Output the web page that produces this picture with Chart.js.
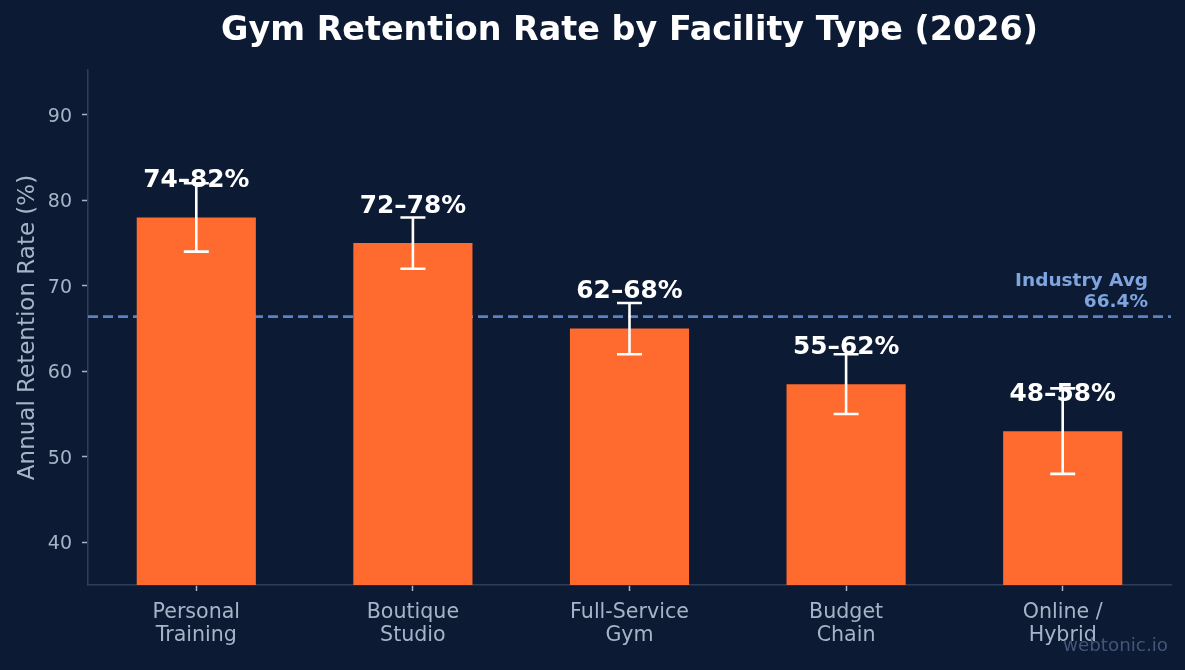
<!DOCTYPE html>
<html>
<head>
<meta charset="utf-8">
<script src="https://cdn.jsdelivr.net/npm/chart.js@4.4.1/dist/chart.umd.min.js"></script>
<style>
  html, body { margin: 0; padding: 0; background: #0c1b33; }
  #wrap { width: 1185px; height: 670px; position: relative; }
</style>
</head>
<body>
<div id="wrap"><canvas id="c" width="1185" height="670"></canvas></div>
<script>
const categories = [['Personal', 'Training'], ['Boutique', 'Studio'], ['Full-Service', 'Gym'], ['Budget', 'Chain'], ['Online /', 'Hybrid']];
const retention = [78, 75, 65, 58.5, 53];
const rangeLow = [74, 72, 62, 55, 48];
const rangeHigh = [82, 78, 68, 62, 58];
const rangeLabels = ['74–82%', '72–78%', '62–68%', '55–62%', '48–58%'];
const industryAvg = 66.4;
const yTicks = [40, 50, 60, 70, 80, 90];
const titleText = 'Gym Retention Rate by Facility Type (2026)';
const yAxisTitle = 'Annual Retention Rate (%)';

const BG = '#0c1b33';
const FONT = '"DejaVu Sans", sans-serif';

const decor = {
  id: 'decor',
  beforeDraw(chart) {
    const ctx = chart.ctx;
    ctx.save();
    ctx.fillStyle = BG;
    ctx.fillRect(0, 0, chart.width, chart.height);
    ctx.restore();
  },
  beforeDatasetsDraw(chart) {
    const ctx = chart.ctx, ca = chart.chartArea, y = chart.scales.y;
    const py = y.getPixelForValue(industryAvg);
    ctx.save();
    ctx.strokeStyle = '#5b82c2';
    ctx.lineWidth = 2.6;
    ctx.setLineDash([10, 5]);
    ctx.beginPath();
    ctx.moveTo(ca.left, py);
    ctx.lineTo(ca.right, py);
    ctx.stroke();
    ctx.restore();
  },
  afterDatasetsDraw(chart) {
    const ctx = chart.ctx, x = chart.scales.x, y = chart.scales.y, ca = chart.chartArea;
    ctx.save();
    // error bars
    ctx.strokeStyle = '#ffffff';
    ctx.lineWidth = 2.6;
    categories.forEach((c, i) => {
      const px = x.getPixelForValue(i);
      const lo = y.getPixelForValue(rangeLow[i]);
      const hi = y.getPixelForValue(rangeHigh[i]);
      ctx.beginPath();
      ctx.moveTo(px, lo); ctx.lineTo(px, hi);
      ctx.moveTo(px - 12.5, lo); ctx.lineTo(px + 12.5, lo);
      ctx.moveTo(px - 12.5, hi); ctx.lineTo(px + 12.5, hi);
      ctx.stroke();
    });
    // value labels
    ctx.fillStyle = '#ffffff';
    ctx.font = 'bold 24.8px ' + FONT;
    ctx.textAlign = 'center';
    ctx.textBaseline = 'middle';
    categories.forEach((c, i) => {
      const px = x.getPixelForValue(i);
      const py = y.getPixelForValue(retention[i]) - 37;
      ctx.fillText(rangeLabels[i], px, py);
    });
    // industry avg label
    ctx.fillStyle = '#7ea5df';
    ctx.font = 'bold 18.5px ' + FONT;
    ctx.textAlign = 'right';
    ctx.fillText('Industry Avg', 1148, 281);
    ctx.fillText(industryAvg.toFixed(1) + '%', 1148, 302);
    // title
    ctx.fillStyle = '#ffffff';
    ctx.font = 'bold 33.4px ' + FONT;
    ctx.textAlign = 'center';
    ctx.fillText(titleText, (ca.left + ca.right) / 2, 31);
    // watermark
    ctx.fillStyle = '#44557a';
    ctx.font = '18.3px ' + FONT;
    ctx.textAlign = 'right';
    ctx.fillText('webtonic.io', 1168, 646);
    ctx.restore();
  }
};

new Chart(document.getElementById('c'), {
  type: 'bar',
  data: {
    labels: categories,
    datasets: [{
      data: retention,
      backgroundColor: '#ff6b2e',
      borderWidth: 0,
      barPercentage: 0.55,
      categoryPercentage: 1.0
    }]
  },
  options: {
    responsive: false,
    animation: false,
    devicePixelRatio: 1,
    layout: { padding: { top: 70, left: 0, right: 14, bottom: 0 } },
    plugins: { legend: { display: false }, tooltip: { enabled: false }, title: { display: false } },
    scales: {
      x: {
        offset: true,
        grid: { offset: false, drawOnChartArea: false, drawTicks: true, tickLength: 6, tickWidth: 1.5, tickColor: '#a8b3c7' },
        border: { color: '#2e3d58', width: 1.5 },
        ticks: { color: '#a8b3c7', font: { family: FONT, size: 20.6, lineHeight: 1.12 }, padding: 10, maxRotation: 0, autoSkip: false },
        afterFit(s) { s.height = 85; }
      },
      y: {
        min: 35,
        max: 95.25,
        grid: { drawOnChartArea: false, drawTicks: true, tickLength: 6, tickWidth: 1.5, tickColor: '#a8b3c7' },
        border: { color: '#2e3d58', width: 1.5 },
        ticks: { color: '#a8b3c7', font: { family: FONT, size: 19 }, padding: 10, labelOffset: 2 },
        afterBuildTicks(s) { s.ticks = yTicks.map(v => ({ value: v })); },
        title: { display: true, text: yAxisTitle, color: '#a8b3c7', font: { family: FONT, size: 23 }, padding: { top: 14, bottom: 0 } },
        afterFit(s) { s.width = 88; }
      }
    }
  },
  plugins: [decor]
});
</script>
</body>
</html>
